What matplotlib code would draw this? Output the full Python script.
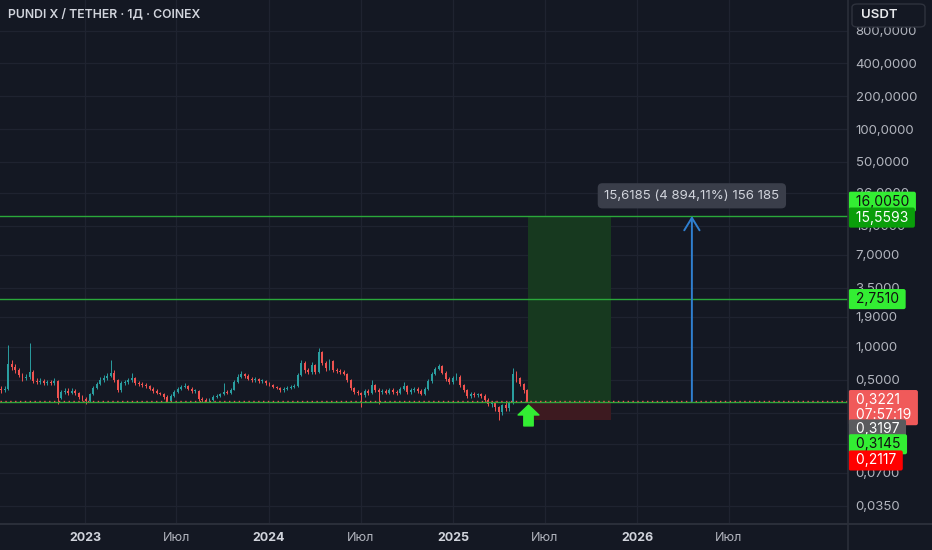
import datetime as dt
import matplotlib
matplotlib.use("Agg")
import matplotlib.pyplot as plt
import matplotlib.dates as mdates
import matplotlib.transforms as mtransforms
from matplotlib.patches import Rectangle, FancyBboxPatch
from matplotlib.lines import Line2D
from matplotlib.path import Path
from matplotlib.ticker import NullLocator

plt.rcParams['font.family'] = ['Inter', 'DejaVu Sans']

# ---------------- data ----------------
title = "PUNDI X / TETHER · 1Д · COINEX"
first_candle = dt.date(2022, 7, 19)   # weekly candles
open0 = 0.410
closes = [0.403, 0.412, 0.698, 0.655, 0.615, 0.553, 0.519, 0.530, 0.590, 0.488,
          0.477, 0.488, 0.467, 0.477, 0.467, 0.488, 0.341, 0.387, 0.395, 0.379,
          0.395, 0.379, 0.348, 0.334, 0.320, 0.371, 0.421, 0.458, 0.498, 0.519,
          0.542, 0.577, 0.498, 0.403, 0.467, 0.477, 0.498, 0.519, 0.467, 0.458,
          0.448, 0.439, 0.412, 0.395, 0.379, 0.371, 0.348, 0.320, 0.355, 0.387,
          0.412, 0.430, 0.439, 0.412, 0.395, 0.395, 0.334, 0.327, 0.320, 0.327,
          0.348, 0.355, 0.371, 0.387, 0.379, 0.403, 0.477, 0.530, 0.565, 0.542,
          0.509, 0.498, 0.509, 0.488, 0.488, 0.467, 0.448, 0.430, 0.421, 0.403,
          0.412, 0.421, 0.430, 0.439, 0.553, 0.713, 0.615, 0.590, 0.684, 0.590,
          0.900, 0.713, 0.642, 0.745, 0.615, 0.602, 0.590, 0.565, 0.498, 0.421,
          0.387, 0.379, 0.363, 0.395, 0.379, 0.448, 0.403, 0.387, 0.395, 0.379,
          0.403, 0.387, 0.379, 0.412, 0.439, 0.387, 0.403, 0.412, 0.395, 0.371,
          0.412, 0.488, 0.565, 0.628, 0.669, 0.577, 0.509, 0.477, 0.519, 0.530,
          0.448, 0.403, 0.355, 0.371, 0.363, 0.371, 0.355, 0.327, 0.300, 0.307,
          0.282, 0.253, 0.294, 0.276, 0.307, 0.565, 0.519, 0.458, 0.403, 0.3221]
highs = [0.44, 0.44, 1.04, 0.76, 0.70, 0.64, 0.58, 0.57, 1.09, 0.62,
         0.52, 0.52, 0.51, 0.50, 0.50, 0.52, 0.50, 0.40, 0.42, 0.42,
         0.42, 0.41, 0.39, 0.36, 0.35, 0.38, 0.44, 0.48, 0.53, 0.55,
         0.58, 0.76, 0.62, 0.51, 0.49, 0.50, 0.52, 0.58, 0.53, 0.49,
         0.48, 0.47, 0.45, 0.43, 0.41, 0.39, 0.38, 0.36, 0.37, 0.40,
         0.43, 0.45, 0.47, 0.45, 0.43, 0.41, 0.40, 0.35, 0.34, 0.34,
         0.36, 0.37, 0.38, 0.47, 0.40, 0.42, 0.50, 0.56, 0.60, 0.58,
         0.56, 0.53, 0.53, 0.52, 0.51, 0.50, 0.48, 0.46, 0.44, 0.43,
         0.43, 0.44, 0.45, 0.46, 0.58, 0.76, 0.74, 0.64, 0.73, 0.70,
         0.98, 0.92, 0.74, 0.78, 0.76, 0.64, 0.63, 0.61, 0.58, 0.51,
         0.43, 0.40, 0.39, 0.41, 0.41, 0.50, 0.46, 0.42, 0.41, 0.41,
         0.42, 0.42, 0.40, 0.43, 0.48, 0.45, 0.42, 0.43, 0.43, 0.41,
         0.43, 0.51, 0.59, 0.66, 0.70, 0.69, 0.60, 0.53, 0.54, 0.58,
         0.55, 0.46, 0.41, 0.39, 0.39, 0.38, 0.38, 0.37, 0.34, 0.32,
         0.32, 0.29, 0.30, 0.31, 0.32, 0.64, 0.60, 0.53, 0.47, 0.41]
lows = [0.38, 0.39, 0.40, 0.62, 0.58, 0.53, 0.49, 0.50, 0.51, 0.47,
        0.46, 0.46, 0.45, 0.45, 0.45, 0.45, 0.30, 0.33, 0.37, 0.36,
        0.37, 0.36, 0.33, 0.32, 0.30, 0.31, 0.36, 0.41, 0.45, 0.48,
        0.50, 0.53, 0.48, 0.39, 0.39, 0.45, 0.46, 0.48, 0.45, 0.44,
        0.43, 0.42, 0.40, 0.38, 0.37, 0.36, 0.33, 0.31, 0.31, 0.35,
        0.38, 0.40, 0.42, 0.40, 0.38, 0.38, 0.32, 0.31, 0.31, 0.31,
        0.32, 0.34, 0.35, 0.36, 0.37, 0.37, 0.40, 0.47, 0.52, 0.52,
        0.50, 0.48, 0.48, 0.47, 0.47, 0.45, 0.44, 0.42, 0.41, 0.39,
        0.39, 0.40, 0.41, 0.42, 0.43, 0.54, 0.58, 0.56, 0.57, 0.56,
        0.58, 0.68, 0.60, 0.62, 0.59, 0.58, 0.57, 0.55, 0.48, 0.40,
        0.37, 0.36, 0.28, 0.35, 0.36, 0.37, 0.39, 0.30, 0.37, 0.37,
        0.37, 0.37, 0.36, 0.37, 0.40, 0.37, 0.37, 0.39, 0.38, 0.36,
        0.36, 0.40, 0.47, 0.55, 0.61, 0.56, 0.49, 0.46, 0.46, 0.50,
        0.43, 0.39, 0.34, 0.34, 0.35, 0.35, 0.34, 0.31, 0.29, 0.28,
        0.26, 0.214, 0.24, 0.26, 0.26, 0.30, 0.48, 0.44, 0.38, 0.31]

y_ticks = [800, 400, 200, 100, 50, 26, 13, 7, 3.5, 1.9, 1.0, 0.5, 0.25, 0.13, 0.07, 0.035]
x_tick_dates = [dt.date(2023, 1, 1), dt.date(2023, 7, 1), dt.date(2024, 1, 1), dt.date(2024, 7, 1),
                dt.date(2025, 1, 1), dt.date(2025, 7, 1), dt.date(2026, 1, 1), dt.date(2026, 7, 1)]
x_tick_labels = ["2023", "Июл", "2024", "Июл", "2025", "Июл", "2026", "Июл"]

hline_levels = [16.0050, 2.7510, 0.3145]
last_price = 0.3221
tp_price, entry_price, stop_price = 15.5593, 0.3145, 0.2117
pos_start, pos_end = dt.date(2025, 5, 28), dt.date(2025, 11, 9)
measure_date = dt.date(2026, 4, 19)
measure_from, measure_to = 0.3191, 15.9376
measure_text = "15,6185 (4 894,11%) 156 185"
countdown = "07:57:19"
prev_close = 0.3197

# ---------------- style ----------------
BG = "#141823"
GRID = "#1f2330"
SEP = "#2a2e39"
TXT = "#b2b5be"
UP = "#2a9ea0"
DOWN = "#ef5350"
LINE_GREEN = "#2aa83a"
BRIGHT_GREEN = "#33ee33"

W, H = 932, 550
fig = plt.figure(figsize=(W / 100, H / 100), dpi=100, facecolor=BG)
ax = fig.add_axes([0, 26 / H, 848 / W, 524 / H])
ax.set_facecolor(BG)
ax.set_yscale('log')
ax.set_ylim(0.02377, 1526)
base = mdates.date2num(dt.date(2023, 1, 1))
ax.set_xlim(base - 168.6, base + 1513.7)

for s in ax.spines.values():
    s.set_visible(False)

# grid / ticks
ax.yaxis.tick_right()
ax.set_yticks(y_ticks)
ax.set_yticklabels([f"{v:.4f}".replace('.', ',') for v in y_ticks])
ax.yaxis.set_minor_locator(NullLocator())
ax.tick_params(axis='y', length=0, pad=5.5, labelcolor=TXT, labelsize=9.5)
ax.set_xticks([mdates.date2num(d) for d in x_tick_dates])
ax.set_xticklabels(x_tick_labels)
ax.xaxis.set_minor_locator(NullLocator())
ax.tick_params(axis='x', length=0, pad=6, labelcolor=TXT, labelsize=9)
for lab in ax.get_xticklabels():
    if lab.get_text().isdigit():
        lab.set_fontweight('bold')
        lab.set_color("#d1d4dc")
ax.grid(True, color=GRID, lw=0.9)
ax.set_axisbelow(True)

# long position boxes
xs, xe = mdates.date2num(pos_start), mdates.date2num(pos_end)
ax.add_patch(Rectangle((xs, entry_price), xe - xs, tp_price - entry_price,
                       facecolor="#17391f", edgecolor='none', zorder=1))
ax.add_patch(Rectangle((xs, stop_price), xe - xs, entry_price - stop_price,
                       facecolor="#3d1a20", edgecolor='none', zorder=1))

# candles
opens = [open0] + closes[:-1]
for i, (o, h, l, c) in enumerate(zip(opens, highs, lows, closes)):
    x = mdates.date2num(first_candle + dt.timedelta(days=7 * i))
    col = UP if c >= o else DOWN
    ax.vlines(x, l, h, color=col, lw=0.7, zorder=3)
    lo, hi = min(o, c), max(o, c)
    if hi / lo < 1.01:
        hi = lo * 1.01
    ax.bar(x, hi - lo, bottom=lo, width=3.8, color=col, edgecolor='none', zorder=3)

# horizontal levels
for lv in hline_levels:
    ax.axhline(lv, color=LINE_GREEN, lw=1.0, zorder=4)
ax.axhline(last_price, color=DOWN, lw=1.0, ls=(0, (1, 2.5)), zorder=4)

# measurement arrow
mx = mdates.date2num(measure_date)
ax.annotate('', xy=(mx, measure_to), xytext=(mx, measure_from),
            arrowprops=dict(arrowstyle='->,head_length=0.9,head_width=0.55',
                            color="#2f7fd0", lw=1.4, shrinkA=0, shrinkB=0), zorder=5)
ax.annotate(measure_text, xy=(mx, measure_to), xytext=(0, 14.5), textcoords='offset points',
            ha='center', va='center', color="#d1d4dc", fontsize=9.5, zorder=6,
            bbox=dict(boxstyle='round,pad=0.5,rounding_size=0.35', fc="#3a3e4a", ec='none'))

# green entry arrow marker
arrow_path = Path([(-1, 0.05), (0, 1), (1, 0.05), (0.45, 0.05), (0.45, -1),
                   (-0.45, -1), (-0.45, 0.05), (-1, 0.05)],
                  [Path.MOVETO] + [Path.LINETO] * 6 + [Path.CLOSEPOLY])
mark_tr = mtransforms.offset_copy(ax.transData, fig=fig, x=0, y=-13, units='dots')
ax.plot([xs], [entry_price], marker=arrow_path, ms=15, color=BRIGHT_GREEN,
        transform=mark_tr, zorder=7, clip_on=False)

# title
ax.text(8 / 848, 1 - 14 / 524, title, transform=ax.transAxes, ha='left', va='center',
        color="#d1d4dc", fontsize=8.8, fontweight='semibold', zorder=8)

# right-side price labels
def price_label(value, dy_px, text, fc, tc):
    ax.annotate(text, xy=(1, value), xycoords=('axes fraction', 'data'),
                xytext=(2.6, dy_px * 0.72), textcoords='offset points',
                ha='left', va='center', color=tc, fontsize=10, zorder=10,
                annotation_clip=False, linespacing=1.1,
                bbox=dict(boxstyle='round,pad=0.22,rounding_size=0.15', fc=fc, ec='none'))

fmt = lambda v: " " + f"{v:.4f}".replace('.', ',') + " "
price_label(hline_levels[0], 14, fmt(hline_levels[0]), BRIGHT_GREEN, "#111111")
price_label(tp_price, -0.5, fmt(tp_price), "#0a9e0a", "#ffffff")
price_label(hline_levels[1], 0, fmt(hline_levels[1]), BRIGHT_GREEN, "#111111")
price_label(last_price, -7, fmt(last_price) + "\n " + countdown + " ", "#f05a5a", "#ffffff")
price_label(prev_close, -28.5, fmt(prev_close), "#5a5b5e", "#ffffff")
price_label(entry_price, -42.5, fmt(entry_price), BRIGHT_GREEN, "#111111")
price_label(stop_price, -40, fmt(stop_price), "#ff0000", "#ffffff")

# separators
fig.add_artist(Line2D([848 / W, 848 / W], [0, 1], transform=fig.transFigure, color=SEP, lw=1.2))
fig.add_artist(Line2D([0, 1], [26 / H, 26 / H], transform=fig.transFigure, color=SEP, lw=1.5))

# currency button
fig.add_artist(FancyBboxPatch((852 / W, 1 - 27 / H), 73 / W, 23 / H,
                              boxstyle='round,pad=0,rounding_size=0.006',
                              transform=fig.transFigure, fc=BG, ec="#2e323d", lw=1.0, zorder=5))
fig.text(861 / W, 1 - 15.5 / H, "USDT", color="#e8e9ec", fontsize=9.5, fontweight='semibold',
         ha='left', va='center', zorder=6)

fig.savefig("out.png", dpi=100, facecolor=BG)
